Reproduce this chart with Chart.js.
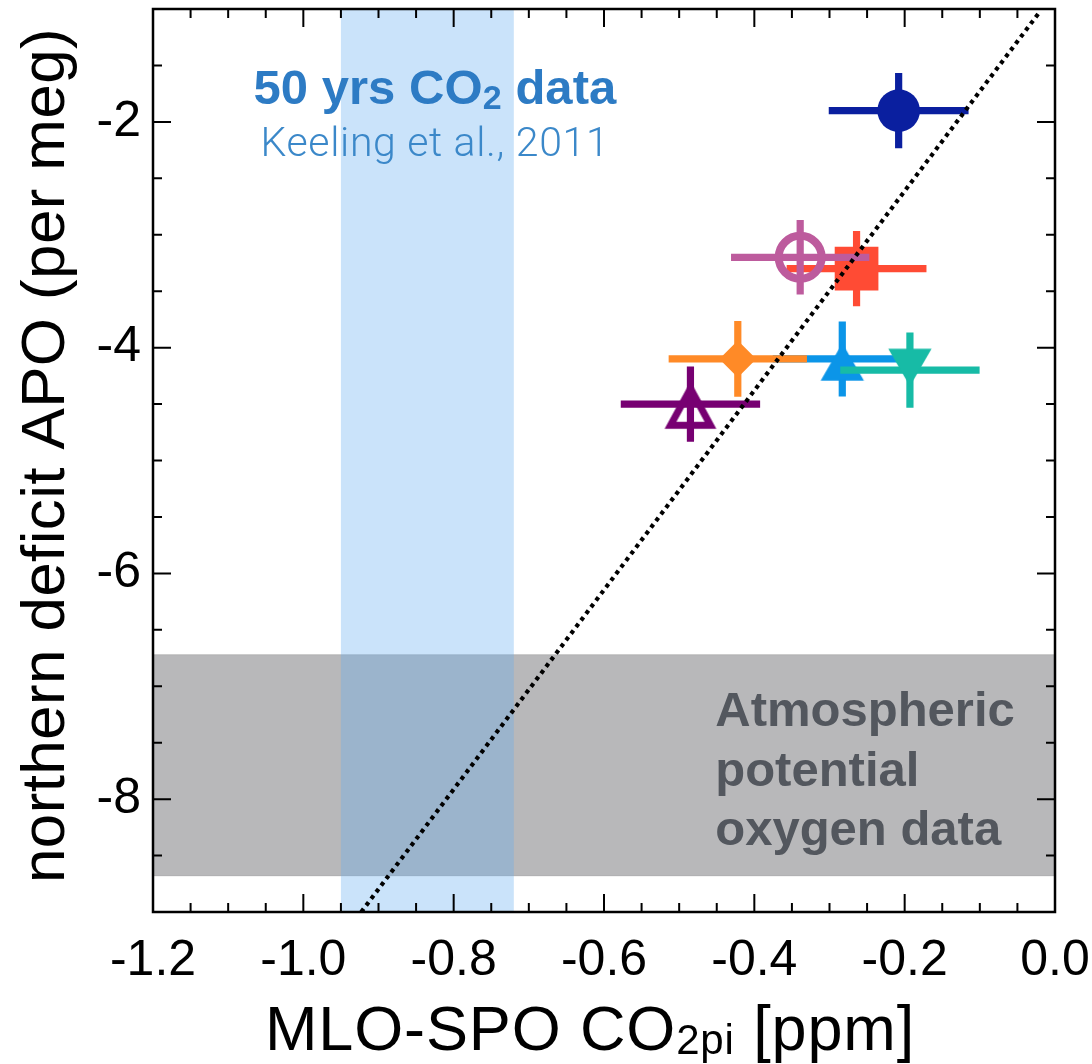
<!DOCTYPE html>
<html><head><meta charset="utf-8">
<script src="https://cdn.jsdelivr.net/npm/chart.js@4.4.1/dist/chart.umd.min.js"></script>
<style>html,body{margin:0;padding:0;background:#fff;}#wrap{width:1092px;height:1064px;}</style>
</head><body><div id="wrap"><canvas id="c" width="1092" height="1064"></canvas></div>
<script>
// ---------------- data ----------------
const seriesNames = ['navy', 'pink', 'red', 'orange', 'blue', 'teal', 'purple'];
const seriesX     = [-0.208, -0.339, -0.264, -0.422, -0.283, -0.193, -0.485];
const seriesY     = [-1.90, -3.20, -3.30, -4.10, -4.10, -4.20, -4.50];
const seriesXErr  = [0.093, 0.092, 0.093, 0.092, 0.0925, 0.0927, 0.0927];
const seriesYErr  = [0.333, 0.330, 0.333, 0.335, 0.332, 0.333, 0.333];
const lineX = [-0.923, -0.022];
const lineY = [-9.0, -1.04];
const co2Band = [-0.95, -0.72];
const apoBand = [-8.68, -6.72];
const xTickValues = [-1.2, -1.0, -0.8, -0.6, -0.4, -0.2, 0.0];
const yTickValues = [-8, -6, -4, -2];
const xRange = [-1.2, 0.0];
const yRange = [-9, -1];

// ---------------- styles ----------------
const colors = {
  navy: '#0a1f9f', pink: '#bd5b9d', red: '#ff4b34', orange: '#ff8a27',
  blue: '#0b95e8', teal: '#17bba6', purple: '#770072'
};
const drawOrder = { blue: 7, teal: 6, orange: 5, purple: 4, red: 3, pink: 2, navy: 1 };
const FONT = "'Liberation Sans', Arial, Helvetica, sans-serif";

function triCanvas(color, dir, filled) {
  const s = 80, c = s / 2;
  const cv = document.createElement('canvas');
  cv.width = s; cv.height = s;
  const g = cv.getContext('2d');
  g.beginPath();
  if (filled) {
    const hw = 21.65;
    if (dir === 'up') { g.moveTo(c, c - 15.8); g.lineTo(c + hw, c + 21.7); g.lineTo(c - hw, c + 21.7); }
    else { g.moveTo(c, c + 16); g.lineTo(c + hw, c - 21.5); g.lineTo(c - hw, c - 21.5); }
    g.closePath(); g.fillStyle = color; g.fill();
  } else {
    const hw = 20;
    g.moveTo(c, c - 15.5); g.lineTo(c + hw, c + 21.3); g.lineTo(c - hw, c + 21.3); g.closePath();
    g.lineJoin = 'miter'; g.lineWidth = 7; g.strokeStyle = color; g.stroke();
  }
  return cv;
}

const markerStyle = {
  navy:   { pointStyle: 'circle', pointRadius: 21.3, backgroundColor: colors.navy, borderWidth: 0 },
  pink:   { pointStyle: 'circle', pointRadius: 21.5, backgroundColor: 'rgba(0,0,0,0)', borderColor: colors.pink, borderWidth: 8 },
  red:    { pointStyle: 'rect', pointRadius: 30.9, backgroundColor: colors.red, borderWidth: 0 },
  orange: { pointStyle: 'rectRot', pointRadius: 18.5, backgroundColor: colors.orange, borderWidth: 0 },
  blue:   { pointStyle: triCanvas(colors.blue, 'up', true), pointRadius: 22, backgroundColor: colors.blue, borderWidth: 0 },
  teal:   { pointStyle: triCanvas(colors.teal, 'down', true), pointRadius: 22, backgroundColor: colors.teal, borderWidth: 0 },
  purple: { pointStyle: triCanvas(colors.purple, 'up', false), pointRadius: 22, backgroundColor: colors.purple, borderWidth: 0 }
};

// ---------------- datasets ----------------
const datasets = seriesNames.map((name, i) => Object.assign({
  label: name,
  data: [{ x: seriesX[i], y: seriesY[i], xErr: seriesXErr[i], yErr: seriesYErr[i] }],
  errorBars: true,
  barColor: colors[name],
  order: drawOrder[name],
  showLine: false
}, markerStyle[name]));

datasets.push({
  type: 'line',
  label: 'ratio line',
  data: lineX.map((x, i) => ({ x: x, y: lineY[i] })),
  borderColor: '#000',
  borderWidth: 4.2,
  borderDash: [4, 4.3],
  borderCapStyle: 'butt',
  pointRadius: 0,
  fill: false,
  order: 0
});

// ---------------- helpers ----------------
function drawRich(ctx, parts, x, y, align, targetW) {
  const widths = parts.map(p => { ctx.font = p.font; return ctx.measureText(p.text).width; });
  let total = widths.reduce((a, b) => a + b, 0);
  const nChars = parts.reduce((a, p) => a + p.text.length, 0);
  let ls = 0;
  if (targetW && ('letterSpacing' in ctx)) {
    ls = (targetW - total) / nChars;
    ls = Math.max(-3, Math.min(4, ls));
  }
  total += ls * nChars;
  let sx = align === 'center' ? x - total / 2 : (align === 'right' ? x - total : x);
  ctx.textAlign = 'left';
  ctx.textBaseline = 'alphabetic';
  parts.forEach((p, i) => {
    ctx.font = p.font;
    if ('letterSpacing' in ctx) ctx.letterSpacing = ls + 'px';
    ctx.fillText(p.text, sx, y + (p.dy || 0));
    sx += widths[i] + ls * p.text.length;
  });
  if ('letterSpacing' in ctx) ctx.letterSpacing = '0px';
}

const notes = {
  co2Title: { x: -0.825, y: -1.843 },
  co2Ref: { x: -0.825, y: -2.305 },
  apo: { x: -0.452, y: [-7.355, -7.882, -8.41] }
};

const bandsPlugin = {
  id: 'bands',
  beforeDatasetsDraw(chart) {
    const ctx = chart.ctx, xs = chart.scales.x, ys = chart.scales.y;
    const { left, right, top, bottom } = chart.chartArea;
    ctx.save();
    const gy1 = ys.getPixelForValue(apoBand[1]), gy2 = ys.getPixelForValue(apoBand[0]);
    ctx.fillStyle = '#b8b8ba';
    ctx.fillRect(left, gy1, right - left, gy2 - gy1);
    ctx.strokeStyle = 'rgba(0,0,0,0.13)';
    ctx.lineWidth = 1;
    ctx.beginPath();
    ctx.moveTo(left, gy1); ctx.lineTo(right, gy1);
    ctx.moveTo(left, gy2); ctx.lineTo(right, gy2);
    ctx.stroke();
    const bx1 = xs.getPixelForValue(co2Band[0]), bx2 = xs.getPixelForValue(co2Band[1]);
    ctx.fillStyle = 'rgba(100,174,240,0.34)';
    ctx.fillRect(bx1, top, bx2 - bx1, bottom - top);

    // annotation texts
    ctx.fillStyle = '#2d7bc4';
    drawRich(ctx, [
      { text: '50 yrs CO', font: 'bold 49px ' + FONT },
      { text: '2', font: 'bold 34px ' + FONT, dy: 5 },
      { text: ' data', font: 'bold 49px ' + FONT }
    ], xs.getPixelForValue(notes.co2Title.x), ys.getPixelForValue(notes.co2Title.y), 'center', 363);
    ctx.fillStyle = '#3b88c9';
    drawRich(ctx, [{ text: 'Keeling et al., 2011', font: "300 41px Roboto, 'Open Sans', " + FONT }],
      xs.getPixelForValue(notes.co2Ref.x), ys.getPixelForValue(notes.co2Ref.y), 'center', 349);
    ctx.fillStyle = '#53575e';
    const lines = ['Atmospheric', 'potential', 'oxygen data'];
    lines.forEach((t, i) => {
      drawRich(ctx, [{ text: t, font: 'bold 49px ' + FONT }],
        xs.getPixelForValue(notes.apo.x), ys.getPixelForValue(notes.apo.y[i]), 'left');
    });
    ctx.restore();
  },
  beforeDatasetDraw(chart, args) {
    const ds = chart.data.datasets[args.index];
    if (!ds.errorBars) return;
    const ctx = chart.ctx, xs = chart.scales.x, ys = chart.scales.y;
    ctx.save();
    ctx.strokeStyle = ds.barColor;
    ctx.lineWidth = 7.2;
    ctx.lineCap = 'butt';
    ds.data.forEach(p => {
      ctx.beginPath();
      ctx.moveTo(xs.getPixelForValue(p.x - p.xErr), ys.getPixelForValue(p.y));
      ctx.lineTo(xs.getPixelForValue(p.x + p.xErr), ys.getPixelForValue(p.y));
      ctx.moveTo(xs.getPixelForValue(p.x), ys.getPixelForValue(p.y + p.yErr));
      ctx.lineTo(xs.getPixelForValue(p.x), ys.getPixelForValue(p.y - p.yErr));
      ctx.stroke();
    });
    ctx.restore();
  },
  afterDatasetsDraw(chart) {
    const ctx = chart.ctx, xs = chart.scales.x, ys = chart.scales.y;
    const { left, right, top, bottom } = chart.chartArea;
    ctx.save();
    ctx.strokeStyle = '#000';
    // ticks
    ctx.lineWidth = 2;
    ctx.beginPath();
    const xMinorStep = 0.05, yMinorStep = 0.5;
    for (let k = 1; k * xMinorStep < (xRange[1] - xRange[0]) - 1e-9; k++) {
      const v = xRange[0] + k * xMinorStep;
      const major = xTickValues.some(t => Math.abs(t - v) < 1e-6);
      const len = major ? 18 : 9;
      const p = xs.getPixelForValue(v);
      ctx.moveTo(p, bottom); ctx.lineTo(p, bottom - len);
      ctx.moveTo(p, top); ctx.lineTo(p, top + len);
    }
    for (let k = 1; k * yMinorStep < (yRange[1] - yRange[0]) - 1e-9; k++) {
      const v = yRange[0] + k * yMinorStep;
      const major = yTickValues.some(t => Math.abs(t - v) < 1e-6);
      const len = major ? 18 : 9;
      const p = ys.getPixelForValue(v);
      ctx.moveTo(left, p); ctx.lineTo(left + len, p);
      ctx.moveTo(right, p); ctx.lineTo(right - len, p);
    }
    ctx.stroke();
    // frame
    ctx.lineWidth = 2.5;
    ctx.strokeRect(left, top, right - left, bottom - top);

    // axis titles
    ctx.fillStyle = '#000';
    drawRich(ctx, [
      { text: 'MLO-SPO CO', font: '63px ' + FONT },
      { text: '2pi', font: '42px ' + FONT, dy: 4 },
      { text: ' [ppm]', font: '63px ' + FONT }
    ], (left + right) / 2 - 14, 1050, 'center', 650);
    ctx.translate(64, (top + bottom) / 2 - 5);
    ctx.rotate(-Math.PI / 2);
    drawRich(ctx, [{ text: 'northern deficit APO (per meg)', font: '62px ' + FONT }], 0, 0, 'center', 855);
    ctx.restore();
  }
};

new Chart(document.getElementById('c'), {
  type: 'scatter',
  data: { datasets: datasets },
  options: {
    responsive: false,
    animation: false,
    devicePixelRatio: 1,
    layout: { autoPadding: false, padding: { top: 9, right: 37, left: 0, bottom: 0 } },
    plugins: { legend: { display: false }, tooltip: { enabled: false } },
    scales: {
      x: {
        type: 'linear', position: 'bottom', min: xRange[0], max: xRange[1],
        grid: { display: false, drawTicks: false },
        border: { display: false },
        ticks: {
          autoSkip: false, maxRotation: 0, padding: 19, color: '#000',
          font: { family: FONT, size: 50 },
          callback: v => Number(v).toFixed(1)
        },
        afterBuildTicks: s => { s.ticks = xTickValues.map(v => ({ value: v })); },
        afterFit: s => { s.height = 152; s.paddingLeft = 0; s.paddingRight = 0; }
      },
      y: {
        type: 'linear', position: 'left', min: yRange[0], max: yRange[1],
        grid: { display: false, drawTicks: false },
        border: { display: false },
        ticks: {
          autoSkip: false, padding: 12, color: '#000',
          font: { family: FONT, size: 50, lineHeight: 0.3 },
          callback: v => String(v)
        },
        afterBuildTicks: s => { s.ticks = yTickValues.map(v => ({ value: v })); },
        afterFit: s => { s.width = 153; s.paddingTop = 0; s.paddingBottom = 0; }
      }
    }
  },
  plugins: [bandsPlugin]
});
</script></body></html>
